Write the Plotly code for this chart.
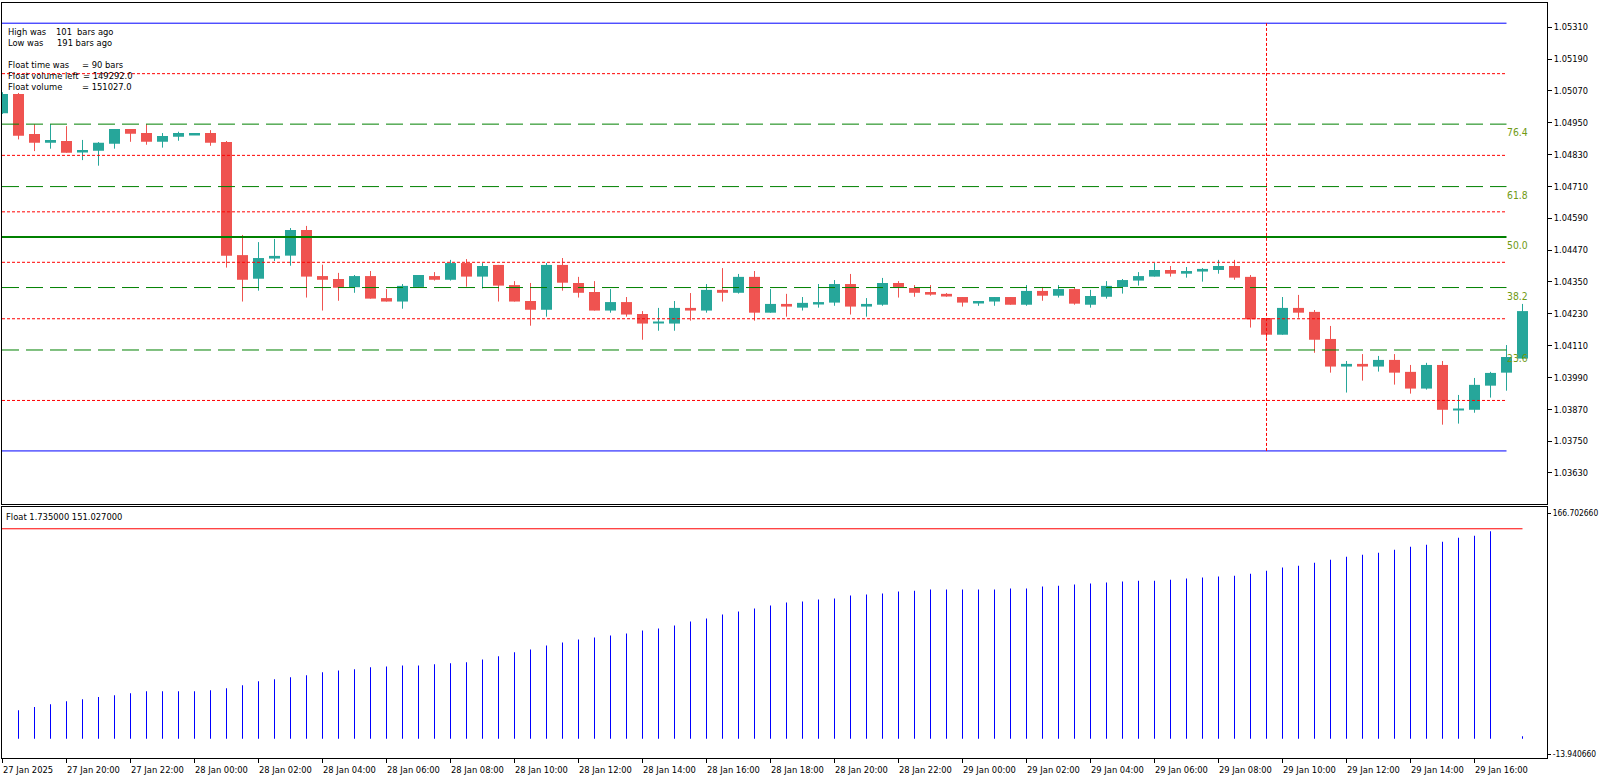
import plotly.graph_objects as go

W, H = 1600, 780

# ---------------- data ----------------
open_ = [1.04986, 1.05058, 1.04907, 1.04874, 1.04881, 1.04841, 1.04844, 1.04871, 1.04926, 1.04911,
         1.04878, 1.04897, 1.04905, 1.04911, 1.04877, 1.04451, 1.04362, 1.04438, 1.04449, 1.04546,
         1.04372, 1.04361, 1.04330, 1.04372, 1.04289, 1.04276, 1.04331, 1.04372, 1.04358, 1.04421,
         1.04370, 1.04414, 1.04338, 1.04278, 1.04245, 1.04414, 1.04346, 1.04312, 1.04242, 1.04274,
         1.04229, 1.04196, 1.04193, 1.04252, 1.04242, 1.04320, 1.04309, 1.04369, 1.04234, 1.04267,
         1.04253, 1.04268, 1.04272, 1.04342, 1.04257, 1.04264, 1.04346, 1.04327, 1.04312, 1.04305,
         1.04293, 1.04272, 1.04276, 1.04293, 1.04264, 1.04316, 1.04298, 1.04323, 1.04264, 1.04294,
         1.04331, 1.04355, 1.04370, 1.04395, 1.04381, 1.04389, 1.04395, 1.04410, 1.04369, 1.04214,
         1.04151, 1.04252, 1.04237, 1.04135, 1.04031, 1.04041, 1.04031, 1.04056, 1.04011, 1.03948,
         1.04037, 1.03868, 1.03868, 1.03959, 1.04008, 1.04061]
high = [1.05065, 1.05062, 1.04944, 1.04944, 1.04937, 1.04885, 1.04877, 1.04926, 1.04926, 1.04944,
        1.04911, 1.04916, 1.04911, 1.04922, 1.04881, 1.04527, 1.04500, 1.04512, 1.04553, 1.04561,
        1.04415, 1.04384, 1.04376, 1.04391, 1.04323, 1.04342, 1.04376, 1.04387, 1.04433, 1.04436,
        1.04421, 1.04414, 1.04353, 1.04346, 1.04421, 1.04440, 1.04369, 1.04353, 1.04323, 1.04293,
        1.04240, 1.04252, 1.04278, 1.04308, 1.04342, 1.04402, 1.04380, 1.04391, 1.04323, 1.04305,
        1.04293, 1.04342, 1.04357, 1.04380, 1.04289, 1.04365, 1.04353, 1.04338, 1.04338, 1.04308,
        1.04293, 1.04278, 1.04293, 1.04293, 1.04338, 1.04331, 1.04338, 1.04327, 1.04320, 1.04353,
        1.04361, 1.04387, 1.04421, 1.04410, 1.04406, 1.04402, 1.04433, 1.04433, 1.04376, 1.04214,
        1.04293, 1.04301, 1.04244, 1.04184, 1.04052, 1.04078, 1.04071, 1.04078, 1.04037, 1.04045,
        1.04052, 1.03924, 1.03988, 1.04011, 1.04112, 1.04267]
low = [1.04983, 1.04887, 1.04843, 1.04852, 1.04837, 1.04809, 1.04788, 1.04852, 1.04878, 1.04867,
       1.04856, 1.04882, 1.04905, 1.04863, 1.04404, 1.04276, 1.04317, 1.04429, 1.04411, 1.04291,
       1.04242, 1.04279, 1.04309, 1.04287, 1.04276, 1.04249, 1.04331, 1.04355, 1.04355, 1.04332,
       1.04325, 1.04276, 1.04276, 1.04185, 1.04219, 1.04317, 1.04291, 1.04242, 1.04234, 1.04219,
       1.04132, 1.04166, 1.04166, 1.04204, 1.04234, 1.04276, 1.04306, 1.04204, 1.04234, 1.04219,
       1.04242, 1.04253, 1.04260, 1.04227, 1.04219, 1.04260, 1.04291, 1.04294, 1.04298, 1.04294,
       1.04257, 1.04260, 1.04260, 1.04264, 1.04260, 1.04279, 1.04291, 1.04264, 1.04253, 1.04287,
       1.04306, 1.04336, 1.04370, 1.04370, 1.04366, 1.04351, 1.04381, 1.04358, 1.04178, 1.04139,
       1.04151, 1.04215, 1.04083, 1.04008, 1.03933, 1.03978, 1.04012, 1.03963, 1.03929, 1.03944,
       1.03812, 1.03816, 1.03857, 1.03914, 1.03940, 1.04061]
close = [1.05058, 1.04901, 1.04874, 1.04885, 1.04837, 1.04847, 1.04874, 1.04926, 1.04908, 1.04878,
         1.04900, 1.04911, 1.04911, 1.04874, 1.04449, 1.04358, 1.04440, 1.04448, 1.04546, 1.04370,
         1.04358, 1.04328, 1.04372, 1.04287, 1.04276, 1.04335, 1.04376, 1.04358, 1.04421, 1.04370,
         1.04410, 1.04336, 1.04276, 1.04245, 1.04414, 1.04347, 1.04309, 1.04242, 1.04274, 1.04227,
         1.04193, 1.04200, 1.04252, 1.04242, 1.04320, 1.04309, 1.04369, 1.04234, 1.04267, 1.04257,
         1.04271, 1.04274, 1.04342, 1.04257, 1.04267, 1.04346, 1.04331, 1.04309, 1.04302, 1.04298,
         1.04272, 1.04278, 1.04293, 1.04264, 1.04316, 1.04298, 1.04323, 1.04268, 1.04297, 1.04335,
         1.04357, 1.04372, 1.04395, 1.04381, 1.04391, 1.04399, 1.04410, 1.04366, 1.04209, 1.04151,
         1.04252, 1.04234, 1.04132, 1.04031, 1.04041, 1.04031, 1.04056, 1.04008, 1.03948, 1.04037,
         1.03868, 1.03870, 1.03962, 1.04007, 1.04067, 1.04240]

float_hist = [None, 20.4, 22.8, 24.8, 26.9, 28.3, 30.0, 31.2, 32.6, 34.1,
              34.1, 34.1, 34.1, 34.8, 36.2, 38.4, 41.3, 42.7, 44.1, 45.6,
              47.7, 49.1, 49.9, 51.3, 52.0, 52.7, 52.7, 53.5, 54.2, 54.9,
              57.0, 59.2, 62.1, 64.2, 67.1, 69.2, 71.4, 72.8, 74.3, 75.7,
              77.9, 79.3, 81.4, 84.3, 86.5, 89.3, 91.5, 93.6, 95.8, 97.9,
              98.7, 100.1, 100.8, 103.0, 103.7, 104.4, 105.8, 106.5, 107.3, 107.3,
              107.3, 107.3, 107.3, 108.0, 108.0, 109.4, 110.1, 110.9, 111.6, 112.3,
              113.0, 113.7, 113.7, 114.4, 115.2, 115.9, 116.6, 117.3, 118.7, 120.9,
              123.1, 124.5, 126.6, 128.8, 130.9, 132.4, 133.8, 136.0, 138.1, 139.6,
              141.7, 144.6, 146.0, 149.292, 0.0, 1.735]
float_volume_line = 151.027

time_tick_index = [0, 4, 8, 12, 16, 20, 24, 28, 32, 36, 40, 44, 48, 52, 56, 60, 64, 68, 72, 76, 80, 84, 88, 92]
time_tick_labels = ["27 Jan 2025", "27 Jan 20:00", "27 Jan 22:00", "28 Jan 00:00", "28 Jan 02:00",
                    "28 Jan 04:00", "28 Jan 06:00", "28 Jan 08:00", "28 Jan 10:00", "28 Jan 12:00",
                    "28 Jan 14:00", "28 Jan 16:00", "28 Jan 18:00", "28 Jan 20:00", "28 Jan 22:00",
                    "29 Jan 00:00", "29 Jan 02:00", "29 Jan 04:00", "29 Jan 06:00", "29 Jan 08:00",
                    "29 Jan 10:00", "29 Jan 12:00", "29 Jan 14:00", "29 Jan 16:00"]

price_ticks = [1.05310, 1.05190, 1.05070, 1.04950, 1.04830, 1.04710, 1.04590, 1.04470,
               1.04350, 1.04230, 1.04110, 1.03990, 1.03870, 1.03750, 1.03630]
price_tick_labels = ["1.05310", "1.05190", "1.05070", "1.04950", "1.04830", "1.04710", "1.04590", "1.04470",
                     "1.04350", "1.04230", "1.04110", "1.03990", "1.03870", "1.03750", "1.03630"]

sub_min, sub_max = -13.940660, 166.702660
sub_tick_labels = ["166.702660", "-13.940660"]

fib_high = 1.05325
fib_low = 1.03713
fib_levels = [76.4, 61.8, 50.0, 38.2, 23.6]
fib_labels = ["76.4", "61.8", "50.0", "38.2", "23.6"]
mid_levels = [88.2, 69.1, 55.9, 44.1, 30.9, 11.8]
float_bar_index = 79          # vertical dotted marker
level_end_index = 94
sub_line_end_index = 95

info_lines = [
    ("High was", "101", "bars ago"),
    ("Low was", "191 bars ago", None),
    ("Float time was", "= 90 bars", None),
    ("Float volume left", "= 149292.0", None),
    ("Float volume", "= 151027.0", None),
]
sub_title = "Float 1.735000 151.027000"

# ---------------- style ----------------
BULL = "#26A69A"
BEAR = "#EF5350"
FONT = "DejaVu Sans Condensed, Liberation Sans, sans-serif"
FS = 9.3
FIBTXT = "#6f9a14"


def px(x):
    return x / W


def py(y):
    return 1 - y / H


n = len(open_)
idx = list(range(n))

main_top, main_bot = 2.5, 504.0
sub_top, sub_bot = 507.0, 758.0
left_px, right_px = 2.0, 1547.0
bar0_px, bar_step = 2.5, 16.0
x_range = [(left_px - bar0_px) / bar_step, (right_px - bar0_px) / bar_step]
y_range = [1.03513, 1.05403]

fig = go.Figure()

# wicks
for col, bull in ((BULL, True), (BEAR, False)):
    xs, ys = [], []
    for i in idx:
        if (close[i] >= open_[i]) == bull:
            xs += [i, i, None]
            ys += [low[i], high[i], None]
    fig.add_trace(go.Scatter(x=xs, y=ys, mode="lines", line=dict(color=col, width=1),
                             hoverinfo="skip", showlegend=False, xaxis="x", yaxis="y"))

# bodies
body_base = [min(o, c) for o, c in zip(open_, close)]
body_h = [max(abs(c - o), 2.8e-5) for o, c in zip(open_, close)]
body_col = [BULL if c >= o else BEAR for o, c in zip(open_, close)]
fig.add_trace(go.Bar(x=idx, y=body_h, base=body_base, width=11 / bar_step,
                     marker=dict(color=body_col, line=dict(width=0)),
                     hoverinfo="skip", showlegend=False, xaxis="x", yaxis="y"))

# float histogram
fig.add_trace(go.Bar(x=idx, y=float_hist, width=1 / bar_step,
                     marker=dict(color="#0000FF", line=dict(width=0)),
                     hoverinfo="skip", showlegend=False, xaxis="x2", yaxis="y2"))

shapes = []
rng = fib_high - fib_low
for v in (fib_high, fib_low):
    shapes.append(dict(type="line", xref="x", yref="y", x0=x_range[0], x1=level_end_index, y0=v, y1=v,
                       line=dict(color="#0000FF", width=1)))
for lv in mid_levels:
    v = fib_low + rng * lv / 100
    shapes.append(dict(type="line", xref="x", yref="y", x0=x_range[0], x1=level_end_index, y0=v, y1=v,
                       line=dict(color="#FF0000", width=1, dash="3px,2px")))
annotations = []
for lv, lab in zip(fib_levels, fib_labels):
    v = fib_low + rng * lv / 100
    if lv == 50.0:
        ln = dict(color="#008000", width=2)
    else:
        ln = dict(color="#008000", width=1, dash="17px,7px")
    shapes.append(dict(type="line", xref="x", yref="y", x0=x_range[0], x1=level_end_index, y0=v, y1=v, line=ln))
    annotations.append(dict(x=level_end_index, y=v, xref="x", yref="y", text=lab, showarrow=False,
                            xanchor="left", yanchor="top", xshift=-2, yshift=0,
                            font=dict(family=FONT, size=10.3, color=FIBTXT)))
shapes.append(dict(type="line", xref="x", yref="y", x0=float_bar_index, x1=float_bar_index,
                   y0=fib_low, y1=fib_high, line=dict(color="#FF0000", width=1, dash="3px,2px")))
shapes.append(dict(type="line", xref="x2", yref="y2", x0=x_range[0], x1=sub_line_end_index,
                   y0=float_volume_line, y1=float_volume_line, line=dict(color="#FF0000", width=1)))

# info text
info_y = [31.7, 42.7, 64.7, 75.7, 86.7]
second_x = [55, 56.7, 81.7, 82.3, 81.7]
tf = dict(family=FONT, size=FS, color="black")
for (a, b, c), yy, x2 in zip(info_lines, info_y, second_x):
    annotations.append(dict(x=px(5.5), y=py(yy), xref="paper", yref="paper", text=a, showarrow=False,
                            xanchor="left", yanchor="middle", font=tf))
    annotations.append(dict(x=px(x2 - 1.5), y=py(yy), xref="paper", yref="paper", text=b, showarrow=False,
                            xanchor="left", yanchor="middle", font=tf))
    if c:
        annotations.append(dict(x=px(74.5), y=py(yy), xref="paper", yref="paper", text=c, showarrow=False,
                                xanchor="left", yanchor="middle", font=tf))

annotations.append(dict(x=px(3.5), y=py(516.5), xref="paper", yref="paper", text=sub_title, showarrow=False,
                        xanchor="left", yanchor="middle", font=tf))

for ti, lab in zip(time_tick_index, time_tick_labels):
    annotations.append(dict(x=ti, y=py(769), xref="x2", yref="paper", text=lab, showarrow=False,
                            xanchor="left", yanchor="middle", xshift=-2, font=tf))

per_px = (sub_max - sub_min) / (sub_bot - sub_top)
sub_tickvals = [sub_max - 6 * per_px, sub_min + 4 * per_px]

axis_common = dict(showline=True, mirror=True, linecolor="black", linewidth=1,
                   showgrid=False, zeroline=False, automargin=False)

fig.update_layout(
    width=W, height=H, autosize=False,
    margin=dict(l=0, r=0, t=0, b=0, pad=0),
    paper_bgcolor="white", plot_bgcolor="white",
    barmode="overlay", showlegend=False, hovermode=False,
    shapes=shapes, annotations=annotations,
    font=dict(family=FONT, size=FS, color="black"),
    xaxis=dict(domain=[px(left_px), px(right_px)], range=x_range, anchor="y",
               showticklabels=False, ticks="", **axis_common),
    yaxis=dict(domain=[py(main_bot), py(main_top)], range=y_range, anchor="x", side="right",
               tickvals=price_ticks, ticktext=price_tick_labels, ticks="outside", ticklen=4,
               tickcolor="black", tickfont=dict(family=FONT, size=9.2, color="black"), **axis_common),
    xaxis2=dict(domain=[px(left_px), px(right_px)], range=x_range, anchor="y2", matches="x",
                tickvals=time_tick_index, ticks="outside", ticklen=4, tickcolor="black",
                showticklabels=False, **axis_common),
    yaxis2=dict(domain=[py(sub_bot), py(sub_top)], range=[sub_min, sub_max], anchor="x2", side="right",
                tickvals=sub_tickvals, ticktext=sub_tick_labels, ticks="outside", ticklen=3,
                tickcolor="black", tickfont=dict(family=FONT, size=8.4, color="black"), **axis_common),
)

fig.write_html("out.html")
